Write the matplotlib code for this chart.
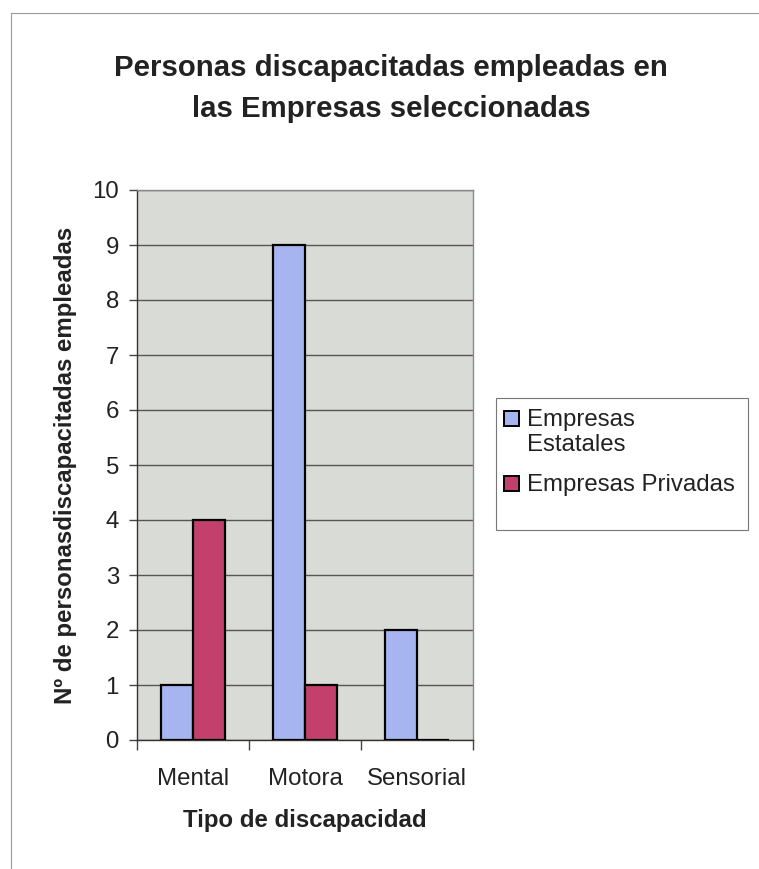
import matplotlib.pyplot as plt
import matplotlib.patches as mpatches
import numpy as np

plt.rcParams['font.family'] = ['Liberation Sans', 'DejaVu Sans']

# Data
categories = ['Mental', 'Motora', 'Sensorial']
estatales = [1, 9, 2]
privadas = [4, 1, 0]
series_names = ['Empresas\nEstatales', 'Empresas Privadas']
yticks = list(range(0, 11))

COLOR_EST = '#a6b5f0'
COLOR_PRIV = '#c33f6c'
TEXT = '#222222'
FS = 17.3

fig = plt.figure(figsize=(7.59, 8.69), dpi=100)
W, H = 759, 869


def fx(px):
    return px / W


def fy(py):
    return 1 - py / H


# outer chart border (Excel chart area)
fig.patches.append(mpatches.Rectangle((fx(11), -0.01), 1.0, fy(13) + 0.01,
                                      transform=fig.transFigure, fill=False,
                                      edgecolor='#9a9a9a', linewidth=0.8))

ax = fig.add_axes([fx(137), fy(740), 336 / W, 550 / H])
ax.set_facecolor('#d9dbd6')

x = np.arange(len(categories))
bw = 0.29
ax.bar(x - bw / 2, estatales, bw, color=COLOR_EST, edgecolor='black', linewidth=1.6, zorder=3)
ax.bar(x + bw / 2, privadas, bw, color=COLOR_PRIV, edgecolor='black', linewidth=1.6, zorder=3)

ax.set_xlim(-0.5, len(categories) - 0.5)
ax.set_ylim(0, 10)
ax.set_yticks(yticks)
ax.yaxis.grid(True, color='#555555', linewidth=1.0)
ax.set_axisbelow(True)

# x ticks at category boundaries, labels centered
ax.set_xticks(np.arange(-0.5, len(categories), 1.0))
ax.set_xticklabels([])
ax.set_xticks(x, minor=True)
ax.set_xticklabels(categories, minor=True)
ax.tick_params(axis='x', which='minor', length=0, pad=20, labelsize=FS, labelcolor=TEXT)
ax.tick_params(axis='x', which='major', length=7, width=1, color='#444444', direction='out')
ax.tick_params(axis='y', length=6, width=1, color='#444444', labelsize=FS,
               labelcolor=TEXT, pad=7)

for side in ['top', 'right']:
    ax.spines[side].set_color('#8a8a8a')
    ax.spines[side].set_linewidth(1.0)
for side in ['left', 'bottom']:
    ax.spines[side].set_color('#333333')
    ax.spines[side].set_linewidth(1.0)

ax.set_xlabel('Tipo de discapacidad', fontsize=FS, fontweight='bold', color=TEXT, labelpad=14)
ax.set_ylabel('Nº de personasdiscapacitadas empleadas', fontsize=FS, fontweight='bold',
              color=TEXT, labelpad=11)

fig.text(fx(391), fy(68), 'Personas discapacitadas empleadas en',
         ha='center', va='center', fontsize=21.2, fontweight='bold', color=TEXT)
fig.text(fx(391), fy(109), 'las Empresas seleccionadas',
         ha='center', va='center', fontsize=21.2, fontweight='bold', color=TEXT)

# legend drawn Excel-style: box, square keys aligned with first text line
fig.patches.append(mpatches.Rectangle((fx(496), fy(530)), 252 / W, 132 / H,
                                      transform=fig.transFigure, facecolor='white',
                                      edgecolor='#777777', linewidth=0.8))
legend_colors = [COLOR_EST, COLOR_PRIV]
legend_rows = [419, 484]
for name, col, ry in zip(series_names, legend_colors, legend_rows):
    fig.patches.append(mpatches.Rectangle((fx(504), fy(ry + 7)), 15 / W, 15 / H,
                                          transform=fig.transFigure, facecolor=col,
                                          edgecolor='black', linewidth=1.4))
    fig.text(fx(527), fy(ry - 10), name, ha='left', va='top', fontsize=FS,
             color=TEXT, linespacing=1.15)

plt.savefig('out.png', dpi=100)
